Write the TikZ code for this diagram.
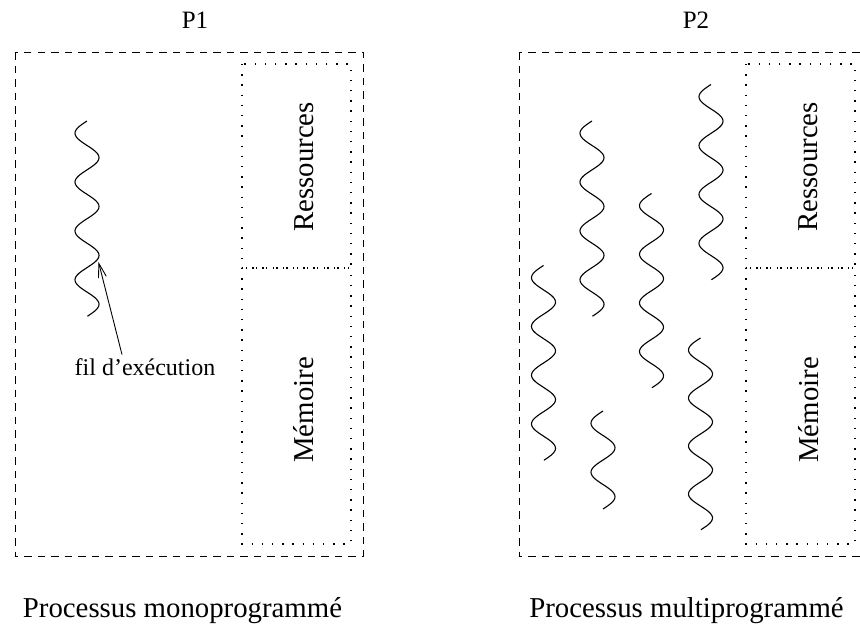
\documentclass[tikz,border=0pt]{standalone}
\usepackage{fontspec}
\setmainfont{Liberation Serif}
\usetikzlibrary{arrows.meta}

\tikzset{
  boite/.style={line width=1pt, dash pattern=on 7.5pt off 6pt},
  zone/.style={line width=1.4pt, dash pattern=on 1.4pt off 8.8pt},
  onde/.style={line width=1.1pt},
  pointeur/.style={line width=0.9pt, -{Straight Barb[length=14pt,width=8pt]}},
  titre/.style={font=\fontsize{25}{30}\selectfont, anchor=base},
  legende/.style={font=\fontsize{28.8}{34}\selectfont, anchor=base},
  vertical/.style={font=\fontsize{28.8}{34}\selectfont, anchor=base, rotate=90},
  petit/.style={font=\fontsize{24}{29}\selectfont, anchor=base}
}

\begin{document}
\begin{tikzpicture}[x=1pt, y=-1pt]
\useasboundingbox (0,0) rectangle (860,624);
\clip (0,0) rectangle (860,624);

\node[titre] (p1) at (195,28.5) {P1};
\node[titre] (p2) at (696,28.5) {P2};

\draw[boite] (15,52) rectangle (363,556);
\draw[zone] (242,64) rectangle (351,268);
\draw[zone] (242,268) rectangle (351,544);
\node[vertical] (res1) at (313,167) {Ressources};
\node[vertical] (mem1) at (313.5,410) {Mémoire};

\draw[boite] (519,52) rectangle (867,556);
\draw[zone] (746,64) rectangle (855,268);
\draw[zone] (746,268) rectangle (855,544);
\node[vertical] (res2) at (817.5,167) {Ressources};
\node[vertical] (mem2) at (818,410) {Mémoire};

\draw[onde] plot[domain=0:1, samples=161, smooth] ({87-12*sin(4*360*\x)}, {121+195.5*\x});
\coordinate (pointe) at (98.5,262);
\node[petit] (fil) at (145,375) {fil d’exécution};
\draw[pointeur] ([xshift=-23pt]fil.north) -- (pointe);

\draw[onde] plot[domain=0:1, samples=161, smooth] ({543.5-12*sin(4*360*\x)}, {265.5+195*\x});
\draw[onde] plot[domain=0:1, samples=161, smooth] ({592-12*sin(4*360*\x)}, {121+195.5*\x});
\draw[onde] plot[domain=0:1, samples=161, smooth] ({651.5-12*sin(4*360*\x)}, {193.5+194.5*\x});
\draw[onde] plot[domain=0:1, samples=161, smooth] ({711-12*sin(4*360*\x)}, {84.5+195.5*\x});
\draw[onde] plot[domain=0:1, samples=81, smooth] ({603-12*sin(2*360*\x)}, {411+98*\x});
\draw[onde] plot[domain=0:1, samples=161, smooth] ({700.5-12*sin(4*360*\x)}, {338+192*\x});

\node[legende] (mono) at (182.5,617) {Processus monoprogrammé};
\node[legende] (multi) at (686.5,617) {Processus multiprogrammé};
\end{tikzpicture}
\end{document}
